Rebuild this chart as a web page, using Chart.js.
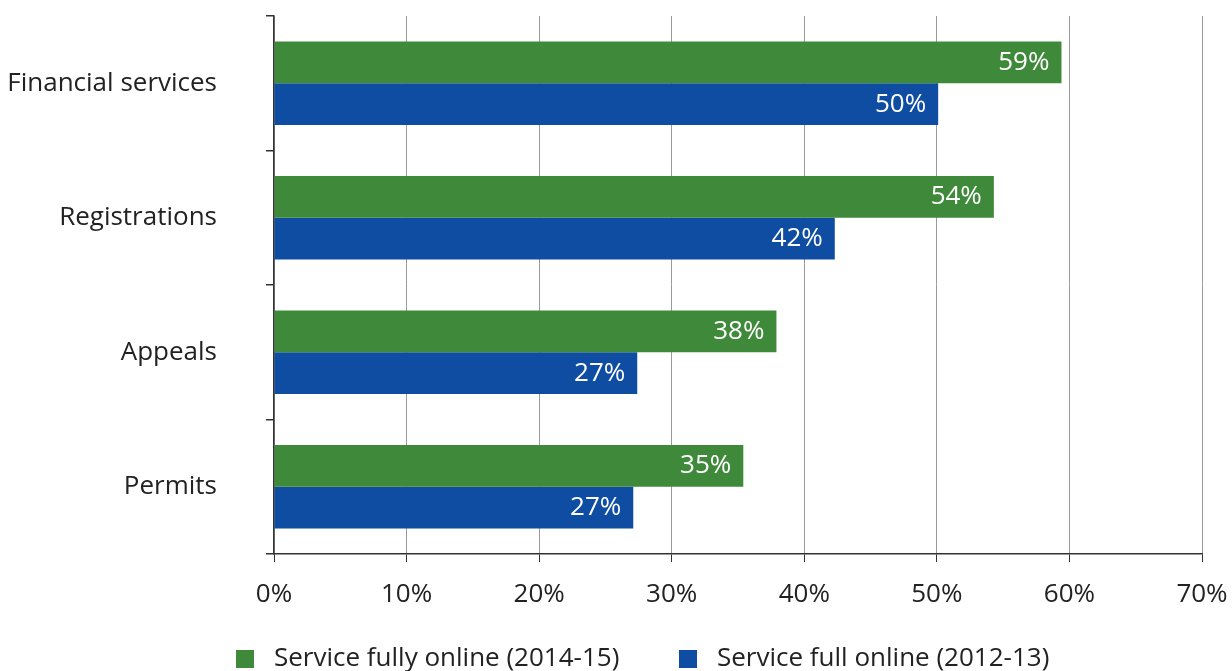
<!DOCTYPE html>
<html>
<head>
<meta charset="utf-8">
<script src="https://cdn.jsdelivr.net/npm/chart.js@4/dist/chart.umd.min.js"></script>
<style>
  html, body { margin: 0; padding: 0; background: #fff; overflow: hidden; }
  #wrap { width: 1232px; height: 671px; }
</style>
</head>
<body>
<div id="wrap"><canvas id="chart" width="1232" height="671"></canvas></div>
<script>
// data
const categories = ['Financial services', 'Registrations', 'Appeals', 'Permits'];
const online1415 = [59.4, 54.3, 37.9, 35.4];
const online1213 = [50.1, 42.3, 27.4, 27.1];
const seriesNames = ['Service fully online (2014-15)', 'Service full online (2012-13)'];
const xTicks = [0, 10, 20, 30, 40, 50, 60, 70];

const GREEN = '#3f8a3a';
const BLUE = '#0e4da2';
const FONT = 'Open Sans';
const FSIZE = 26;
const TEXT = '#222222';

// white value labels inside bar ends
const valueLabels = {
    id: 'valueLabels',
    afterDatasetsDraw(chart) {
        const ctx = chart.ctx;
        ctx.save();
        ctx.font = FSIZE + 'px ' + FONT;
        ctx.fillStyle = '#ffffff';
        ctx.textAlign = 'right';
        ctx.textBaseline = 'middle';
        chart.data.datasets.forEach((ds, i) => {
            chart.getDatasetMeta(i).data.forEach((bar, j) => {
                ctx.fillText(Math.round(ds.data[j]) + '%', bar.x - 12, bar.y);
            });
        });
        ctx.restore();
    }
};

// legend at the bottom, cut off by the frame like in the source
const bottomLegend = {
    id: 'bottomLegend',
    afterDraw(chart) {
        const ctx = chart.ctx;
        const colors = [GREEN, BLUE];
        const boxX = [236, 679];
        ctx.save();
        ctx.font = FSIZE + 'px ' + FONT;
        ctx.textBaseline = 'middle';
        ctx.textAlign = 'left';
        seriesNames.forEach((name, i) => {
            ctx.fillStyle = colors[i];
            ctx.fillRect(boxX[i], 650, 18, 18);
            ctx.fillStyle = TEXT;
            ctx.fillText(name, boxX[i] + 38, 659);
        });
        ctx.restore();
    }
};

new Chart(document.getElementById('chart'), {
    type: 'bar',
    data: {
        labels: categories,
        datasets: [{
            label: seriesNames[0],
            data: online1415,
            backgroundColor: GREEN,
            categoryPercentage: 0.62,
            barPercentage: 1.0
        }, {
            label: seriesNames[1],
            data: online1213,
            backgroundColor: BLUE,
            categoryPercentage: 0.62,
            barPercentage: 1.0
        }]
    },
    options: {
        indexAxis: 'y',
        responsive: false,
        animation: false,
        layout: {
            padding: { top: 16, right: 30, bottom: 47, left: 0 }
        },
        plugins: {
            legend: { display: false },
            tooltip: { enabled: false }
        },
        scales: {
            x: {
                min: xTicks[0],
                max: xTicks[xTicks.length - 1],
                afterBuildTicks: function(scale) {
                    scale.ticks = xTicks.map(v => ({ value: v }));
                },
                afterFit: function(scale) {
                    scale.height = 70;
                    scale.paddingLeft = 0;
                    scale.paddingRight = 0;
                },
                grid: {
                    color: '#9a9a9a',
                    tickColor: '#333333',
                    tickLength: 8,
                    lineWidth: 1
                },
                border: { color: '#333333', width: 1.5 },
                ticks: {
                    padding: 17,
                    maxRotation: 0,
                    color: TEXT,
                    font: { family: FONT, size: FSIZE },
                    callback: function(v) { return v + '%'; }
                }
            },
            y: {
                afterFit: function(scale) {
                    scale.width = 274;
                    scale.paddingTop = 0;
                    scale.paddingBottom = 0;
                },
                grid: {
                    offset: true,
                    drawOnChartArea: false,
                    tickColor: '#333333',
                    tickLength: 8,
                    lineWidth: 1.5
                },
                border: { color: '#333333', width: 1.5 },
                ticks: {
                    padding: 49,
                    color: TEXT,
                    font: { family: FONT, size: FSIZE }
                }
            }
        }
    },
    plugins: [valueLabels, bottomLegend]
});
</script>
</body>
</html>
